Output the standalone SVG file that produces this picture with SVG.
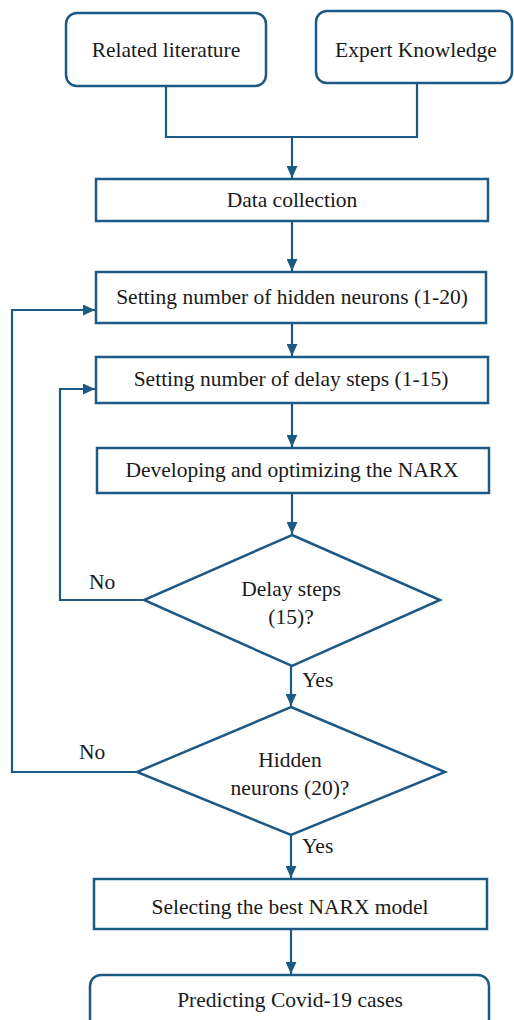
<svg xmlns="http://www.w3.org/2000/svg" width="514" height="1020" viewBox="0 0 514 1020">
  <defs>
    <marker id="arr" viewBox="0 0 12 11" refX="12" refY="5.5" markerWidth="12" markerHeight="11" markerUnits="userSpaceOnUse" orient="auto">
      <path d="M0,0 L12,5.5 L0,11 Z" fill="#1c5a85"/>
    </marker>
    <style>
      .box { fill: #ffffff; stroke: #1c5a85; stroke-width: 2.5; }
      .conn { fill: none; stroke: #1c5a85; stroke-width: 2.2; }
      text { font-family: 'Liberation Serif', 'Times New Roman', Tinos, 'DejaVu Serif', serif; font-size: 21.5px; fill: #1a1a1a; }
      .t { text-anchor: middle; }
    </style>
  </defs>
  <rect width="514" height="1020" fill="#ffffff"/>

  <g id="connectors">
    <polyline class="conn" points="166,86 166,137 417,137 417,83"/>
    <line class="conn" x1="292" y1="137" x2="292" y2="178" marker-end="url(#arr)"/>
    <line class="conn" x1="292" y1="221" x2="292" y2="271" marker-end="url(#arr)"/>
    <line class="conn" x1="292" y1="323" x2="292" y2="356" marker-end="url(#arr)"/>
    <line class="conn" x1="292" y1="403" x2="292" y2="447" marker-end="url(#arr)"/>
    <line class="conn" x1="292" y1="493" x2="292" y2="534" marker-end="url(#arr)"/>
    <line class="conn" x1="291" y1="666" x2="291" y2="706" marker-end="url(#arr)"/>
    <line class="conn" x1="291" y1="835" x2="291" y2="878" marker-end="url(#arr)"/>
    <line class="conn" x1="291" y1="929" x2="291" y2="974" marker-end="url(#arr)"/>
    <polyline class="conn" points="144,600 60,600 60,389 95,389" marker-end="url(#arr)"/>
    <polyline class="conn" points="137,772 12,772 12,310 95,310" marker-end="url(#arr)"/>
    <text x="89" y="589">No</text>
    <text x="79" y="759">No</text>
    <text x="302" y="687">Yes</text>
    <text x="302" y="853">Yes</text>
  </g>

  <g id="related">
    <rect class="box" x="66" y="13" width="200" height="73" rx="11"/>
    <text class="t" x="166" y="57">Related literature</text>
  </g>
  <g id="expert">
    <rect class="box" x="316" y="11" width="196" height="72" rx="11"/>
    <text class="t" x="416" y="57">Expert Knowledge</text>
  </g>
  <g id="data">
    <rect class="box" x="96" y="179" width="392" height="42"/>
    <text class="t" x="292" y="207">Data collection</text>
  </g>
  <g id="hidden">
    <rect class="box" x="96" y="272" width="390" height="51"/>
    <text class="t" x="292" y="304">Setting number of hidden neurons (1-20)</text>
  </g>
  <g id="delay">
    <rect class="box" x="96" y="357" width="392" height="46"/>
    <text class="t" x="291" y="386">Setting number of delay steps (1-15)</text>
  </g>
  <g id="develop">
    <rect class="box" x="97" y="448" width="392" height="45"/>
    <text class="t" x="292" y="477">Developing and optimizing the NARX</text>
  </g>
  <g id="dec1">
    <polygon class="box" points="292,535 440,600 292,666 144,600"/>
    <text class="t" x="291" y="596">Delay steps</text>
    <text class="t" x="291" y="624">(15)?</text>
  </g>
  <g id="dec2">
    <polygon class="box" points="291,707 445,772 291,835 137,772"/>
    <text class="t" x="290" y="767">Hidden</text>
    <text class="t" x="290" y="795">neurons (20)?</text>
  </g>
  <g id="select">
    <rect class="box" x="94" y="879" width="393" height="50"/>
    <text class="t" x="290" y="914">Selecting the best NARX model</text>
  </g>
  <g id="predict">
    <rect class="box" x="90" y="975" width="399" height="70" rx="11"/>
    <text class="t" x="290" y="1007">Predicting Covid-19 cases</text>
  </g>
</svg>
